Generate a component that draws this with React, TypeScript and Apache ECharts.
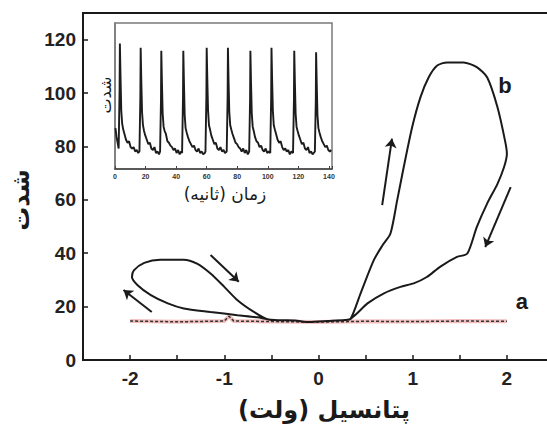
import React, { useEffect, useRef } from "react";
import * as echarts from "echarts";

// ---- main chart data ----
const curveA: number[][] = [
  [-2.0, 14.6], [-1.5, 14.3], [-1.0, 14.6], [-0.95, 16.4], [-0.9, 14.6], [-0.5, 14.4],
  [0.0, 14.2], [0.5, 14.5], [1.0, 14.4], [1.5, 14.6], [2.0, 14.5],
];

const curveB: number[][] = [
  [-0.5, 15.0], [-0.65, 16.0], [-0.86, 16.8], [-1.146, 18.0], [-1.43, 19.3], [-1.6, 21.2],
  [-1.78, 24.3], [-1.92, 28.0], [-1.98, 31.1], [-1.96, 33.6], [-1.85, 36.4], [-1.68, 37.6],
  [-1.43, 37.6], [-1.29, 36.1], [-1.146, 32.4], [-1.0, 27.4], [-0.86, 22.4], [-0.686, 18.0],
  [-0.545, 15.3], [-0.4, 14.9], [-0.25, 14.8], [-0.1, 14.2], [0.1, 14.6], [0.28, 15.0],
  [0.34, 15.4], [0.446, 24.9], [0.587, 37.4], [0.68, 43.0], [0.764, 47.4], [0.835, 59.8],
  [0.905, 72.3], [0.994, 87.2], [1.082, 98.4], [1.17, 105.9], [1.26, 110.3], [1.365, 111.5],
  [1.54, 111.5], [1.68, 109.7], [1.79, 105.9], [1.9, 94.7], [1.98, 82.2], [2.0, 77.3],
  [1.97, 72.3], [1.9, 66.0], [1.79, 58.6], [1.68, 49.8], [1.58, 39.9], [1.47, 38.6],
  [1.29, 34.9], [1.15, 31.1], [1.01, 28.7], [0.87, 27.4], [0.69, 24.9], [0.52, 21.2],
  [0.41, 17.5], [0.34, 15.4],
];

const arrows: number[][][] = [
  [[-1.77, 18.0], [-2.07, 26.2]],
  [[-1.146, 39.3], [-0.846, 29.3]],
  [[0.676, 58.0], [0.78, 82.9]],
  [[2.04, 64.8], [1.77, 42.3]],
];

const curveLabels = [
  { name: "a", value: [2.16, 21.8] },
  { name: "b", value: [1.98, 102.8] },
];

const xTickLabels = [-2, -1, 0, 1, 2];
const yTickLabels = [0, 20, 40, 60, 80, 100, 120];

// ---- inset data (time in s, intensity in a.u.) ----
const insetSignal: number[][] = [
  [0.3, 28], [1.0, 22], [2.4, 14], [3.0, 55], [3.2, 86], [3.6, 64], [4.1, 40], [4.7, 31], [5.4, 27],
  [6.2, 24], [7.2, 20], [8.2, 18], [9.2, 19], [10.2, 15], [11.2, 14], [12.2, 15], [13.2, 12],
  [14.2, 13], [15.2, 11], [16.0, 12],
  [16.6, 50], [16.8, 83], [17.2, 61], [17.7, 39], [18.3, 30], [19.0, 26], [19.8, 23], [20.8, 20],
  [21.8, 17], [22.8, 18], [23.8, 14], [24.8, 13], [25.8, 15], [26.8, 11], [27.8, 12], [28.8, 10],
  [29.5, 12],
  [30.1, 48], [30.3, 81], [30.7, 60], [31.2, 38], [31.8, 29], [32.5, 26], [33.3, 24], [34.3, 19],
  [35.3, 18], [36.3, 16], [37.3, 15], [38.3, 13], [39.3, 14], [40.3, 11], [41.3, 13], [42.3, 10],
  [43.3, 12], [43.9, 11],
  [44.5, 49], [44.7, 81], [45.1, 60], [45.6, 37], [46.2, 28], [46.9, 25], [47.7, 22], [48.7, 19],
  [49.7, 17], [50.7, 15], [51.7, 16], [52.7, 13], [53.7, 12], [54.7, 14], [55.7, 11], [56.7, 12],
  [57.7, 10], [58.7, 11], [59.2, 12],
  [59.8, 50], [60.0, 83], [60.4, 62], [60.9, 40], [61.5, 30], [62.2, 27], [63.0, 23], [64.0, 20],
  [65.0, 17], [66.0, 18], [67.0, 14], [68.0, 13], [69.0, 15], [70.0, 12], [71.0, 13], [72.0, 11],
  [73.1, 12],
  [73.7, 50], [73.9, 83], [74.3, 61], [74.8, 39], [75.4, 30], [76.1, 27], [76.9, 24], [77.9, 21],
  [78.9, 18], [79.9, 17], [80.9, 15], [81.9, 14], [82.9, 12], [83.9, 14], [84.9, 11], [85.9, 13],
  [86.9, 10], [87.8, 12],
  [88.4, 48], [88.6, 81], [89.0, 60], [89.5, 38], [90.1, 29], [90.8, 26], [91.6, 22], [92.6, 19],
  [93.6, 18], [94.6, 15], [95.6, 16], [96.6, 13], [97.6, 12], [98.6, 14], [99.6, 11], [100.6, 12],
  [101.6, 11],
  [102.2, 50], [102.4, 83], [102.8, 62], [103.3, 40], [103.9, 30], [104.6, 27], [105.4, 24],
  [106.4, 20], [107.4, 18], [108.4, 19], [109.4, 15], [110.4, 13], [111.4, 14], [112.4, 12],
  [113.4, 13], [114.4, 10], [115.4, 12], [116.5, 11],
  [117.1, 48], [117.3, 81], [117.7, 60], [118.2, 38], [118.8, 29], [119.5, 26], [120.3, 23],
  [121.3, 20], [122.3, 17], [123.3, 18], [124.3, 14], [125.3, 13], [126.3, 15], [127.3, 11],
  [128.3, 12], [129.3, 10], [130.8, 12],
  [131.4, 47], [131.6, 80], [132.0, 59], [132.5, 37], [133.1, 28], [133.8, 25], [134.6, 22],
  [135.6, 19], [136.6, 17], [137.6, 15], [138.6, 16], [139.6, 13], [140.6, 12], [141.5, 13],
];

const insetTickLabels = [0, 20, 40, 60, 80, 100, 120, 140];

const AR_FONT = "'DejaVu Sans', sans-serif";
const NUM_FONT = "'Liberation Sans', Arial, sans-serif";

export default function App() {
  const ref = useRef<HTMLDivElement>(null);

  useEffect(() => {
    if (!ref.current) return;
    const chart = echarts.init(ref.current, undefined, { renderer: "svg" });
    const option: any = {
      animation: false,
      backgroundColor: "#ffffff",
      grid: [
        {
          left: 83, top: 13, width: 471, height: 347, containLabel: false, outerBoundsMode: "none",
          show: true, borderColor: "#1a1a1a", borderWidth: 2, backgroundColor: "transparent",
        },
        {
          left: 115, top: 23, width: 217, height: 146, containLabel: false, outerBoundsMode: "none",
          show: true, borderColor: "#7a7a7a", borderWidth: 1.5, backgroundColor: "#ffffff",
        },
      ],
      xAxis: [
        {
          type: "value", gridIndex: 0, min: -2.5, max: 2.5, interval: 0.5,
          axisLine: { show: true, onZero: false, lineStyle: { color: "#1a1a1a", width: 2 } },
          axisTick: { show: true, inside: true, length: 5, lineStyle: { color: "#1a1a1a", width: 1.5 } },
          axisLabel: {
            margin: 9, color: "#222", fontSize: 19, fontWeight: "bold", fontFamily: NUM_FONT,
            formatter: (v: number) => (xTickLabels.indexOf(v) >= 0 ? String(v) : ""),
          },
          splitLine: { show: false },
        },
        {
          type: "value", gridIndex: 1, min: 0, max: 142, interval: 20,
          axisLine: { show: true, onZero: false, lineStyle: { color: "#444", width: 1.5 } },
          axisTick: { show: true, inside: true, length: 3, lineStyle: { color: "#444" } },
          axisLabel: {
            margin: 4, color: "#333", fontSize: 7, fontWeight: "bold", fontFamily: NUM_FONT,
            formatter: (v: number) => (insetTickLabels.indexOf(v) >= 0 ? String(v) : ""),
          },
          splitLine: { show: false },
        },
      ],
      yAxis: [
        {
          type: "value", gridIndex: 0, min: 0, max: 130, interval: 20,
          axisLine: { show: true, onZero: false, lineStyle: { color: "#1a1a1a", width: 2 } },
          axisTick: { show: true, inside: true, length: 5, lineStyle: { color: "#1a1a1a", width: 1.5 } },
          axisLabel: {
            margin: 7, color: "#222", fontSize: 19, fontWeight: "bold", fontFamily: NUM_FONT,
            formatter: (v: number) => (yTickLabels.indexOf(v) >= 0 ? String(v) : ""),
          },
          splitLine: { show: false },
        },
        {
          type: "value", gridIndex: 1, min: 0, max: 100,
          axisLine: { show: true, onZero: false, lineStyle: { color: "#7a7a7a", width: 1.5 } },
          axisTick: { show: false },
          axisLabel: { show: false },
          splitLine: { show: false },
        },
      ],
      series: [
        {
          type: "line", xAxisIndex: 0, yAxisIndex: 0, data: curveA, showSymbol: false, symbol: "none",
          lineStyle: { color: "rgba(225,110,110,0.45)", width: 4 }, z: 2,
        },
        {
          type: "line", xAxisIndex: 0, yAxisIndex: 0, data: curveA, showSymbol: false, symbol: "none",
          lineStyle: { color: "#333", width: 1.5, type: [3, 2] }, z: 3,
        },
        {
          type: "line", xAxisIndex: 0, yAxisIndex: 0, data: curveB, showSymbol: false, symbol: "none",
          smooth: 0.25, lineStyle: { color: "#1a1a1a", width: 2 }, z: 4,
        },
        {
          type: "lines", coordinateSystem: "cartesian2d", xAxisIndex: 0, yAxisIndex: 0,
          data: arrows.map((c) => ({ coords: c })),
          symbol: ["none", "arrow"], symbolSize: 9,
          lineStyle: { color: "#1a1a1a", width: 2, opacity: 1, curveness: 0 }, z: 4,
        },
        {
          type: "scatter", xAxisIndex: 0, yAxisIndex: 0, data: curveLabels, symbolSize: 0,
          itemStyle: { color: "#1a1a1a", opacity: 1 },
          label: {
            show: true, position: "inside", formatter: (p: any) => p.name,
            color: "#1a1a1a", fontSize: 22, fontWeight: "bold", fontFamily: NUM_FONT,
          },
          z: 5,
        },
        {
          type: "line", xAxisIndex: 1, yAxisIndex: 1, data: insetSignal, showSymbol: false, symbol: "none",
          lineStyle: { color: "#1c1c1c", width: 1.9 }, z: 6,
        },
      ],
      graphic: [
        {
          type: "text", x: 21, y: 200, rotation: Math.PI / 2,
          style: { text: "شدت", fontSize: 24, fontWeight: "bold", fontFamily: AR_FONT, fill: "#1a1a1a", align: "center", verticalAlign: "middle" },
        },
        {
          type: "text", x: 324, y: 410,
          style: { text: "پتانسیل (ولت)", fontSize: 24, fontWeight: "bold", fontFamily: AR_FONT, fill: "#1a1a1a", align: "center", verticalAlign: "middle" },
        },
        {
          type: "text", x: 105, y: 95, rotation: Math.PI / 2, z: 10,
          style: { text: "شدت", fontSize: 16, fontFamily: AR_FONT, fill: "#1a1a1a", align: "center", verticalAlign: "middle" },
        },
        {
          type: "text", x: 225, y: 194, z: 10,
          style: { text: "زمان (ثانیه)", fontSize: 17, fontFamily: AR_FONT, fill: "#1a1a1a", align: "center", verticalAlign: "middle" },
        },
      ],
    };
    chart.setOption(option);
    return () => chart.dispose();
  }, []);

  return (
    <div
      ref={ref}
      style={{ position: "absolute", left: 0, top: 0, width: 547, height: 431, background: "#fff" }}
    />
  );
}
